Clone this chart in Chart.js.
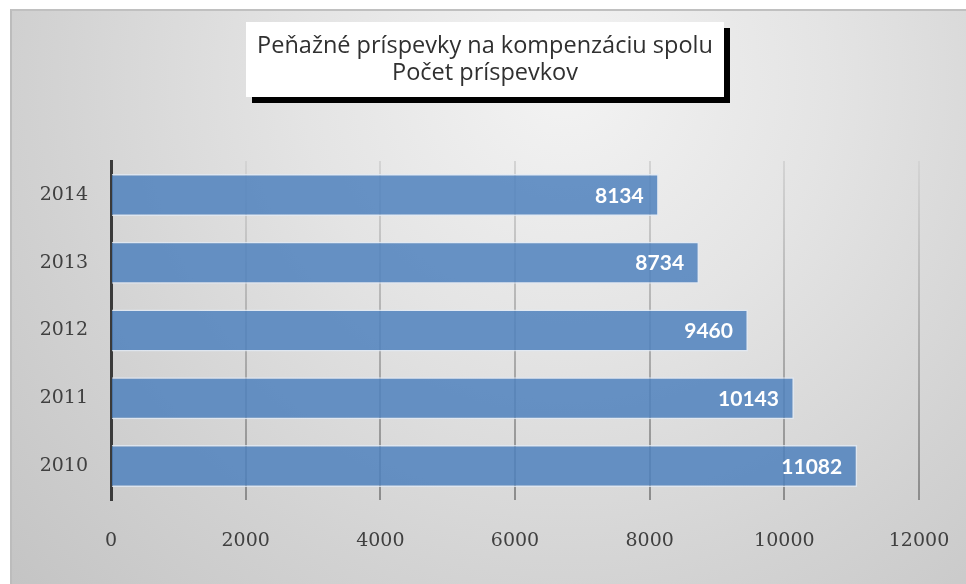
<!DOCTYPE html>
<html>
<head>
<meta charset="utf-8">
<script src="https://cdn.jsdelivr.net/npm/chart.js@4.4.1/dist/chart.umd.min.js"></script>
<style>
  html, body { margin: 0; padding: 0; background: #fff; }
  #panel {
    position: absolute; left: 10px; top: 9px; width: 956px; height: 575px;
    border-top: 2px solid #c0c0c0; border-left: 2px solid #bcbcbc; box-sizing: border-box;
    background: radial-gradient(circle farthest-corner at 58% 12%, #f3f3f3 0%, #e4e4e4 35%, #d2d2d2 70%, #c4c4c4 100%);
  }
  #wrap { position: absolute; left: 0; top: 0; width: 966px; height: 584px; }
  #title {
    position: absolute; left: 246px; top: 22px; width: 478px; height: 75px;
    background: #fff; box-shadow: 6px 6px 0 #000;
    font-family: "Open Sans", sans-serif; font-size: 23.5px; color: #303030;
    text-align: center; line-height: 27px; padding-top: 9px; box-sizing: border-box;
  }
</style>
</head>
<body>
<div id="panel"></div>
<div id="wrap"><canvas id="ctx_bars" width="966" height="584"></canvas></div>
<div id="title">Peňažné príspevky na kompenzáciu spolu<br>Počet príspevkov</div>
<script>
const years = ['2010', '2011', '2012', '2013', '2014'];
const counts = [11082, 10143, 9460, 8734, 8134];
const xTicks = [0, 2000, 4000, 6000, 8000, 10000, 12000];

const ctx_bars = document.getElementById('ctx_bars');

// white value labels inside the bar ends
const barLabels = {
    id: 'barLabels',
    afterDatasetsDraw(chart) {
        const ctx = chart.ctx;
        ctx.save();
        ctx.font = 'bold 21px Lato, sans-serif';
        ctx.fillStyle = '#ffffff';
        ctx.textAlign = 'right';
        ctx.textBaseline = 'middle';
        chart.getDatasetMeta(0).data.forEach((bar, i) => {
            ctx.fillText(String(counts[i]), bar.x - 15, bar.y + 1);
        });
        ctx.restore();
    }
};

new Chart(ctx_bars, {
    type: 'bar',
    data: {
        labels: years,
        datasets: [{
            label: 'Počet príspevkov',
            data: counts,
            backgroundColor: 'rgba(79, 129, 189, 0.85)',
            borderColor: 'rgba(225, 234, 245, 0.8)',
            borderWidth: 1.5,
            barPercentage: 0.62,
            categoryPercentage: 1
        }]
    },
    options: {
        indexAxis: 'y',
        responsive: false,
        animation: false,
        layout: {
            padding: { top: 161, right: 47, bottom: 0, left: 0 }
        },
        scales: {
            x: {
                min: 0,
                max: 12000,
                afterBuildTicks: (scale) => { scale.ticks = xTicks.map(v => ({ value: v })); },
                afterFit: (scale) => {
                    scale.height = 84;
                    scale.paddingLeft = 0;
                    scale.paddingRight = 0;
                },
                grid: {
                    drawTicks: false,
                    color: (c) => {
                        const area = c.chart.chartArea;
                        if (!area) return '#bbb';
                        const g = c.chart.ctx.createLinearGradient(0, area.top, 0, area.bottom);
                        g.addColorStop(0, '#d4d4d4');
                        g.addColorStop(1, '#8c8c8c');
                        return g;
                    },
                    lineWidth: 2
                },
                border: { display: false },
                ticks: {
                    padding: 30,
                    color: '#404040',
                    font: { family: 'DejaVu Serif', size: 19 },
                    callback: (v) => String(v)
                }
            },
            y: {
                reverse: true,
                afterFit: (scale) => {
                    scale.width = 111;
                    scale.paddingTop = 0;
                    scale.paddingBottom = 0;
                },
                grid: { display: false, drawTicks: false },
                border: { display: true, color: '#3a3a3a', width: 3 },
                ticks: {
                    padding: 23,
                    color: '#404040',
                    font: { family: 'DejaVu Serif', size: 19 }
                }
            }
        },
        plugins: {
            legend: { display: false },
            tooltip: { enabled: false }
        }
    },
    plugins: [barLabels]
});
</script>
</body>
</html>
